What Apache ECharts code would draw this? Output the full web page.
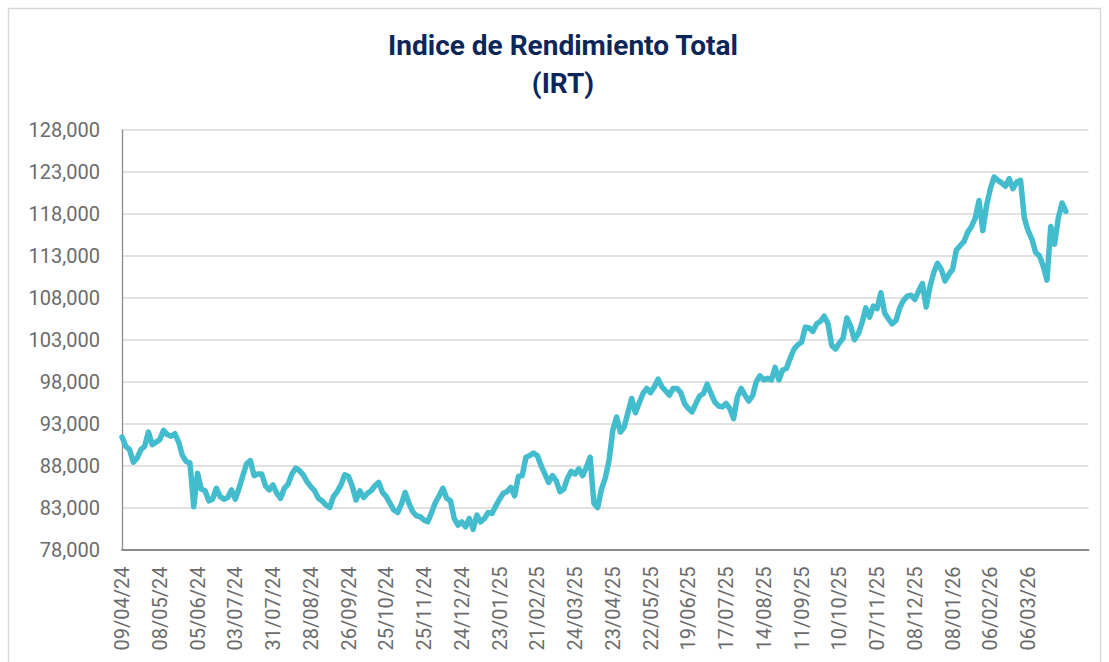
<!DOCTYPE html>
<html>
<head>
<meta charset="utf-8">
<script src="https://cdn.jsdelivr.net/npm/echarts@6/dist/echarts.min.js"></script>
<style>
  html, body { margin: 0; padding: 0; background: #ffffff; }
  #chart { width: 1109px; height: 662px; }
</style>
</head>
<body>
<div id="chart"></div>
<script>
// ---- Data ----
const chartTitle = 'Indice de Rendimiento Total\n(IRT)';

// Tick labels shown on the x axis (one every 10 points)
const tickLabels = [
  '09/04/24', '08/05/24', '05/06/24', '03/07/24', '31/07/24', '28/08/24',
  '26/09/24', '25/10/24', '25/11/24', '24/12/24', '23/01/25', '21/02/25',
  '24/03/25', '23/04/25', '22/05/25', '19/06/25', '17/07/25', '14/08/25',
  '11/09/25', '10/10/25', '07/11/25', '08/12/25', '08/01/26', '06/02/26',
  '06/03/26'
];
const pointsPerLabel = 10;
const axisPointCount = 257;

// IRT values (one point every ~2 business days)
const irtValues = [
  91400, 90300, 89900, 88400, 88900, 89900, 90300, 92000, 90500, 90800,
  91100, 92200, 91700, 91500, 91800, 90800, 89200, 88500, 88300, 83100,
  87100, 85200, 85000, 83800, 84000, 85300, 84300, 84000, 84200, 85100,
  84000, 85300, 86800, 88200, 88600, 86800, 87000, 87000, 85600, 85100,
  85700, 84700, 84100, 85300, 85800, 87000, 87700, 87400, 86900, 86100,
  85500, 85000, 84100, 83800, 83300, 83000, 84300, 84900, 85700, 86900,
  86700, 85500, 83900, 85000, 84200, 84700, 85000, 85600, 86000, 84800,
  84300, 83500, 82700, 82400, 83400, 84800, 83500, 82500, 82000, 81900,
  81500, 81300, 82400, 83600, 84400, 85300, 84100, 83800, 81700, 80900,
  81300, 80700, 81700, 80400, 82100, 81300, 81700, 82400, 82300, 83200,
  84000, 84700, 84900, 85400, 84400, 86700, 86800, 89000, 89200, 89500,
  89200, 88000, 87000, 86000, 86800, 86200, 84900, 85200, 86500, 87300,
  87000, 87600, 86800, 87800, 89000, 83500, 83000, 85200, 86500, 88600,
  92200, 93800, 92000, 92600, 94300, 96000, 94300, 95500, 96600, 97200,
  96700, 97400, 98300, 97400, 96900, 96400, 97200, 97200, 96700, 95400,
  94800, 94400, 95400, 96300, 96600, 97700, 96600, 95600, 95100, 95000,
  95400, 94800, 93600, 96200, 97200, 96400, 95700, 96300, 98000, 98700,
  98200, 98400, 98200, 99700, 98200, 99400, 99600, 100800, 101900, 102400,
  102700, 104500, 104400, 104000, 104900, 105200, 105800, 104900, 102300, 101900,
  102600, 103200, 105600, 104600, 103000, 103700, 105000, 106800, 105700, 107000,
  106700, 108600, 106200, 105500, 104900, 105300, 106800, 107700, 108200, 108300,
  107800, 108800, 109700, 106900, 109300, 111000, 112100, 111400, 110000, 110800,
  111400, 113700, 114200, 114700, 115800, 116500, 117500, 119600, 116000, 119000,
  121000, 122400, 122000, 121700, 121300, 122200, 121000, 121800, 122000, 117500,
  116000, 115000, 113400, 113000, 111800, 110100, 116500, 114400, 117500, 119300,
  118300
];

// Y axis range
const yMin = 78000;
const yMax = 128000;
const yStep = 5000;

// ---- Build categories: tick label at every 10th point, hidden keys otherwise ----
const categories = [];
for (let i = 0; i < axisPointCount; i++) {
  const k = i / pointsPerLabel;
  if (i % pointsPerLabel === 0 && k < tickLabels.length) categories.push(tickLabels[k]);
  else categories.push('#' + i);
}

const chart = echarts.init(document.getElementById('chart'), null, { renderer: 'svg' });

const option = {
  backgroundColor: '#ffffff',
  animation: false,
  graphic: [
    {
      type: 'rect',
      silent: true,
      shape: { x: 8.5, y: 8.5, width: 1092, height: 720 },
      style: { fill: 'none', stroke: '#d9d9d9', lineWidth: 1.5 }
    },
    {
      type: 'text',
      x: 563,
      y: 26,
      style: {
        text: chartTitle,
        font: 'bold 28px Roboto',
        fill: '#0c2659',
        textAlign: 'center',
        textVerticalAlign: 'top',
        lineHeight: 38
      }
    }
  ],
  grid: {
    left: 122,
    right: 20.5,
    top: 130,
    bottom: 112.5,
    containLabel: false
  },
  xAxis: {
    type: 'category',
    data: categories,
    boundaryGap: false,
    axisLine: { show: true, lineStyle: { color: '#8c8c8c', width: 2 } },
    axisTick: { show: false },
    splitLine: { show: false },
    axisLabel: {
      rotate: 90,
      margin: 17,
      interval: (idx, val) => val.charAt(0) !== '#',
      fontFamily: 'Roboto',
      fontSize: 20,
      color: '#6b6b6b'
    }
  },
  yAxis: {
    type: 'value',
    min: yMin,
    max: yMax,
    interval: yStep,
    axisLine: { show: true, lineStyle: { color: '#8c8c8c', width: 1.3 } },
    axisTick: { show: false },
    splitLine: { show: true, lineStyle: { color: '#d9d9d9', width: 1.5 } },
    axisLabel: {
      margin: 22,
      fontFamily: 'Roboto',
      fontSize: 20,
      color: '#6b6b6b',
      formatter: (v) => v.toLocaleString('en-US')
    }
  },
  series: [
    {
      type: 'line',
      name: 'IRT',
      data: irtValues,
      showSymbol: false,
      symbol: 'none',
      smooth: false,
      lineStyle: { color: '#43bccd', width: 5.5, join: 'round', cap: 'round' },
      z: 3
    }
  ]
};

chart.setOption(option);
</script>
</body>
</html>
